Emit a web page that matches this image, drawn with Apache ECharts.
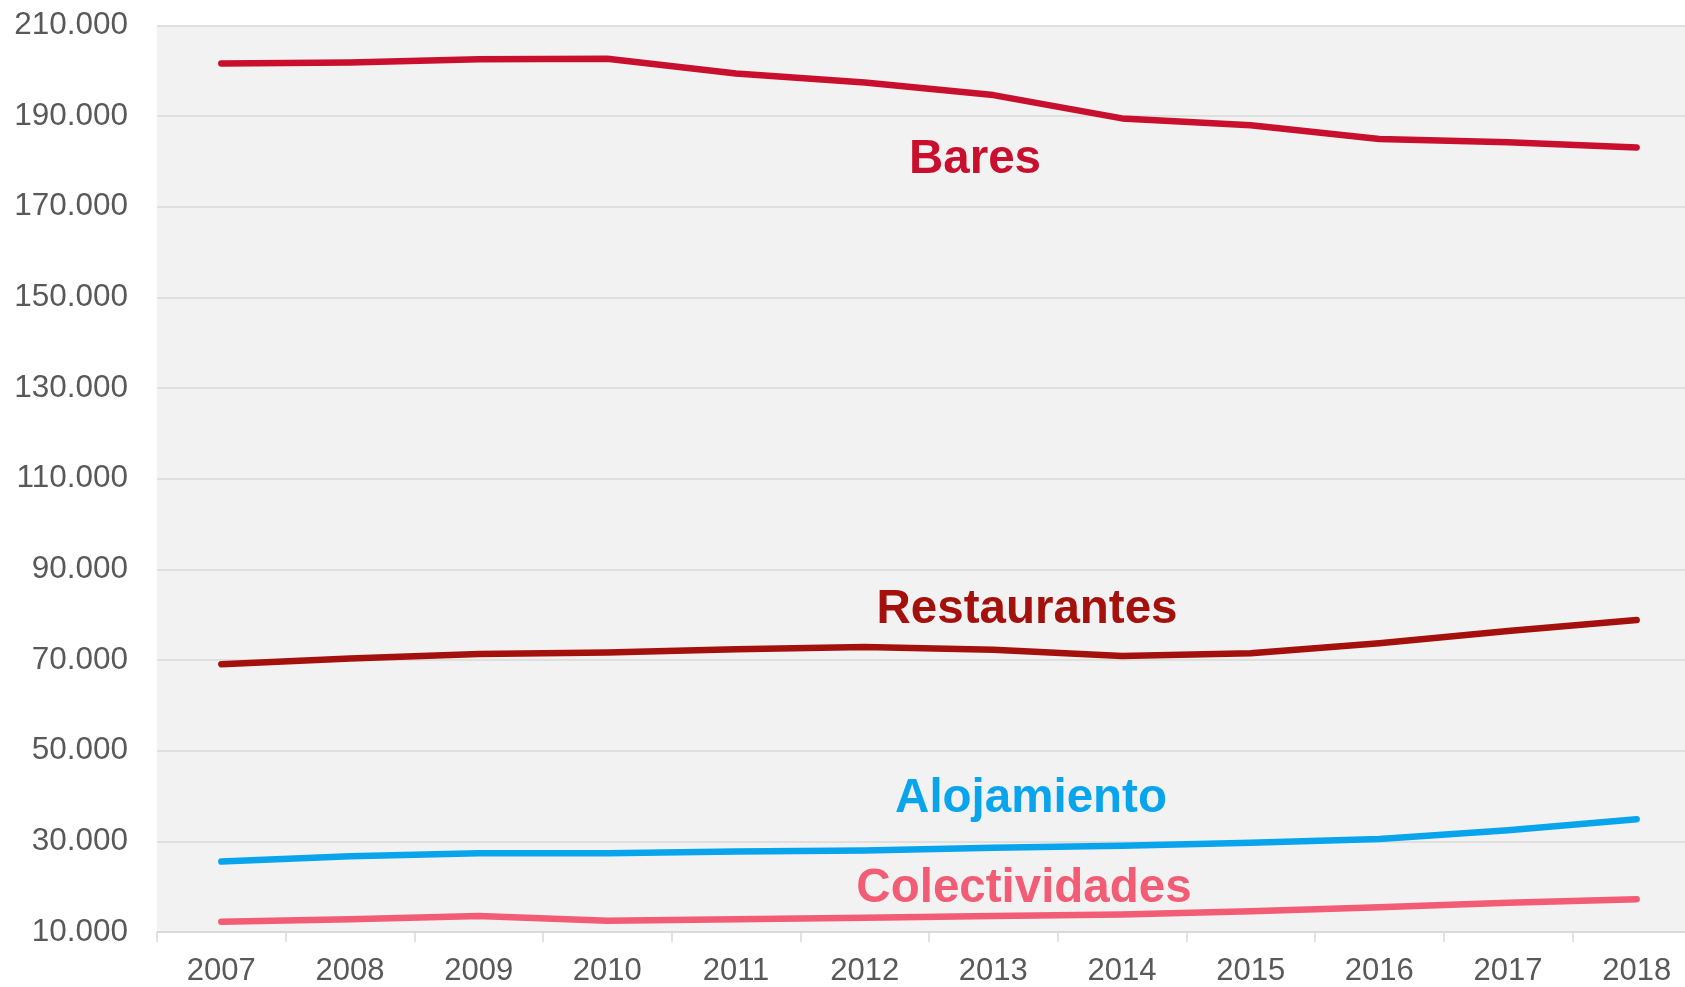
<!DOCTYPE html>
<html>
<head>
<meta charset="utf-8">
<script src="https://cdn.jsdelivr.net/npm/echarts@6/dist/echarts.min.js"></script>
<style>
html,body{margin:0;padding:0;background:#fff;overflow:hidden;width:1685px;height:987px;}
#chart{width:1701px;height:987px;}
</style>
</head>
<body>
<div id="chart"></div>
<script>
const years = ['2007','2008','2009','2010','2011','2012','2013','2014','2015','2016','2017','2018'];
const bares = [201600, 201850, 202550, 202650, 199400, 197400, 194650, 189500, 188000, 184950, 184250, 183100];
const restaurantes = [69100, 70350, 71350, 71650, 72400, 72900, 72250, 70900, 71500, 73700, 76400, 78850];
const alojamiento = [25550, 26700, 27350, 27350, 27750, 28000, 28600, 29050, 29700, 30500, 32450, 34900];
const colectividades = [12250, 12800, 13550, 12500, 12800, 13150, 13550, 13850, 14600, 15450, 16450, 17250];
const seriesNames = ['Bares', 'Restaurantes', 'Alojamiento', 'Colectividades'];
const seriesColors = ['#c8102e', '#a4110c', '#09a5ec', '#f25c75'];
const yMin = 10000, yMax = 210000, yStep = 20000;

function fmt(v) {
  return String(v).replace(/\B(?=(\d{3})+(?!\d))/g, '.');
}

const chart = echarts.init(document.getElementById('chart'), null, {renderer: 'canvas'});
const dataSets = [bares, restaurantes, alojamiento, colectividades];
const labelPos = [[975, 160], [1027, 610], [1031, 799], [1024, 889]];

const option = {
  animation: false,
  backgroundColor: '#ffffff',
  textStyle: {fontFamily: '"Liberation Sans", Arial, sans-serif'},
  grid: {
    left: 157, top: 25.5, right: 0, height: 913,
    show: true, backgroundColor: '#f2f2f2', borderWidth: 0,
    containLabel: false
  },
  xAxis: {
    type: 'category',
    data: years,
    boundaryGap: true,
    axisLine: {show: true, lineStyle: {color: '#d9d9d9', width: 1.5}},
    axisTick: {show: true, length: 10, alignWithLabel: false, lineStyle: {color: '#d9d9d9', width: 1.5}},
    axisLabel: {color: '#595959', fontSize: 31, margin: 24, fontFamily: '"Liberation Sans", Arial, sans-serif'},
    splitLine: {show: false}
  },
  yAxis: {
    type: 'value',
    min: yMin, max: yMax, interval: yStep,
    axisLine: {show: false},
    axisTick: {show: false},
    axisLabel: {color: '#595959', fontSize: 31.5, margin: 29, formatter: fmt, fontFamily: '"Liberation Sans", Arial, sans-serif'},
    splitLine: {show: true, lineStyle: {color: '#d9d9d9', width: 1.5}}
  },
  series: dataSets.map((d, i) => ({
    name: seriesNames[i],
    type: 'line',
    data: d,
    symbol: 'none',
    smooth: false,
    lineStyle: {color: seriesColors[i], width: 6.5, cap: 'round', join: 'round'},
    itemStyle: {color: seriesColors[i]},
    z: 3
  })),
  graphic: seriesNames.map((n, i) => ({
    type: 'text',
    x: labelPos[i][0],
    y: labelPos[i][1],
    z: 10,
    style: {
      text: n,
      fill: seriesColors[i],
      font: 'bold 47.5px "Liberation Sans", Arial, sans-serif',
      textAlign: 'center',
      textVerticalAlign: 'middle'
    }
  }))
};
chart.setOption(option);
</script>
</body>
</html>
